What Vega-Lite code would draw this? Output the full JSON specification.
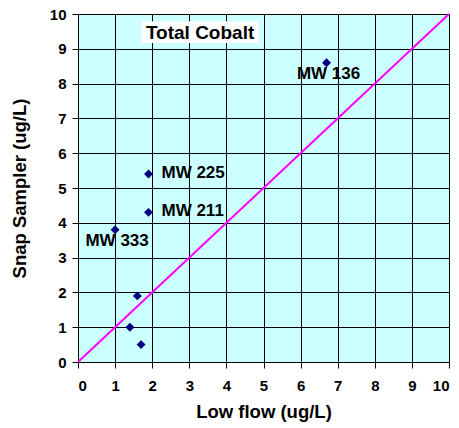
{
  "$schema": "https://vega.github.io/schema/vega-lite/v6.json",
  "width": 371,
  "height": 348,
  "autosize": {"type": "none"},
  "padding": {"left": 78, "top": 14, "right": 10, "bottom": 66},
  "background": "white",
  "config": {
    "view": {"fill": "#CCFFFF", "stroke": "black", "strokeWidth": 1},
    "font": "Liberation Sans",
    "axis": {
      "labelFont": "Liberation Sans", "labelFontWeight": "bold", "labelFontSize": 15, "labelColor": "black",
      "titleFont": "Liberation Sans", "titleFontWeight": "bold", "titleFontSize": 18.5, "titleColor": "black",
      "gridColor": "black", "gridOpacity": 1, "gridWidth": 1,
      "domainColor": "black", "tickColor": "black", "tickSize": 6
    }
  },
  "datasets": {
    "pts": [
      {"low": 6.7, "snap": 8.6, "label": "MW 136"},
      {"low": 1.9, "snap": 5.4, "label": "MW 225"},
      {"low": 1.9, "snap": 4.3, "label": "MW 211"},
      {"low": 1.0, "snap": 3.8, "label": "MW 333"},
      {"low": 1.6, "snap": 1.9, "label": ""},
      {"low": 1.4, "snap": 1.0, "label": ""},
      {"low": 1.7, "snap": 0.5, "label": ""}
    ],
    "line": [{"low": 0, "snap": 0}, {"low": 10, "snap": 10}],
    "ttl": [{"low": 3.29, "snap": 9.48, "label": "Total Cobalt"}]
  },
  "layer": [
    {
      "data": {"name": "line"},
      "mark": {"type": "line", "color": "#FF00FF", "strokeWidth": 2},
      "encoding": {
        "x": {"field": "low", "type": "quantitative", "scale": {"domain": [0, 10]},
              "axis": {"title": "Low flow (ug/L)", "tickCount": 10, "labelPadding": 10, "titlePadding": 9}},
        "y": {"field": "snap", "type": "quantitative", "scale": {"domain": [0, 10]},
              "axis": {"title": "Snap Sampler (ug/L)", "tickCount": 10, "labelPadding": 6, "titlePadding": 20}}
      }
    },
    {
      "data": {"name": "ttl"},
      "mark": {"type": "point", "shape": "M-1,-0.185H1V0.185H-1Z", "size": 13689, "filled": true, "fill": "white", "opacity": 1, "strokeWidth": 0},
      "encoding": {
        "x": {"field": "low", "type": "quantitative"},
        "y": {"field": "snap", "type": "quantitative"}
      }
    },
    {
      "data": {"name": "ttl"},
      "mark": {"type": "text", "fontSize": 19, "fontWeight": "bold", "color": "black", "align": "center", "baseline": "middle", "dy": 1},
      "encoding": {
        "x": {"field": "low", "type": "quantitative"},
        "y": {"field": "snap", "type": "quantitative"},
        "text": {"field": "label"}
      }
    },
    {
      "data": {"name": "pts"},
      "mark": {"type": "point", "shape": "diamond", "filled": true, "color": "#000080", "opacity": 1, "size": 80},
      "encoding": {
        "x": {"field": "low", "type": "quantitative"},
        "y": {"field": "snap", "type": "quantitative"}
      }
    },
    {
      "data": {"name": "pts"},
      "transform": [{"filter": "datum.label == 'MW 225' || datum.label == 'MW 211'"}],
      "mark": {"type": "text", "fontSize": 17, "fontWeight": "bold", "color": "black", "align": "left", "baseline": "middle", "dx": 13, "dy": -1},
      "encoding": {
        "x": {"field": "low", "type": "quantitative"},
        "y": {"field": "snap", "type": "quantitative"},
        "text": {"field": "label"}
      }
    },
    {
      "data": {"name": "pts"},
      "transform": [{"filter": "datum.label == 'MW 136' || datum.label == 'MW 333'"}],
      "mark": {"type": "text", "fontSize": 17, "fontWeight": "bold", "color": "black", "align": "center", "baseline": "middle", "dx": 2, "dy": 11},
      "encoding": {
        "x": {"field": "low", "type": "quantitative"},
        "y": {"field": "snap", "type": "quantitative"},
        "text": {"field": "label"}
      }
    }
  ]
}
